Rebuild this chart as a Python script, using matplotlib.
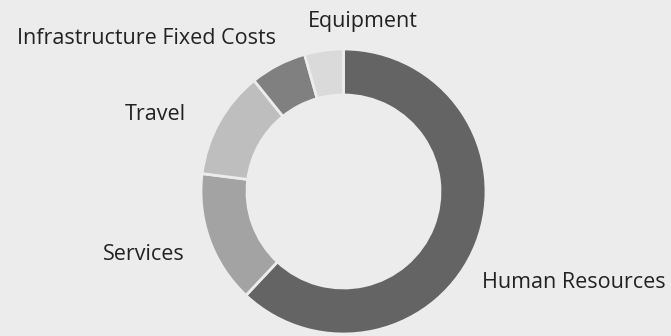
import matplotlib
matplotlib.use("Agg")
import matplotlib.pyplot as plt

categories = ["Human Resources", "Services", "Travel", "Infrastructure Fixed Costs", "Equipment"]
values = [62.0, 15.0, 12.2, 6.4, 4.4]
colors = ["#646464", "#a3a3a3", "#bebebe", "#808080", "#dadada"]

# label layout (pixel coords: x, baseline y from top, horizontal alignment)
label_pos = [(482, 288, "left"), (185, 260, "right"), (186, 120.5, "right"), (276, 44, "right"), (362.5, 27.3, "center")]

W, H = 671, 336
bg = "#ececec"
fig = plt.figure(figsize=(W / 100, H / 100), dpi=100, facecolor=bg)
ax = fig.add_axes([0, 0, 1, 1])
ax.set_facecolor(bg)
ax.axis("off")

cx, cy, R = 343.5, H - 191.5, 142.5
ax.pie(values, colors=colors, startangle=90, counterclock=False, center=(cx, cy), radius=R,
       wedgeprops=dict(width=46, edgecolor=bg, linewidth=2))
ax.set_xlim(0, W)
ax.set_ylim(0, H)
ax.set_aspect("equal")

for name, (x, y, ha) in zip(categories, label_pos):
    ax.text(x, H - y, name, ha=ha, va="baseline", fontsize=15.5, color="#222222", family="Open Sans")

fig.savefig("out.png", dpi=100, facecolor=bg)
